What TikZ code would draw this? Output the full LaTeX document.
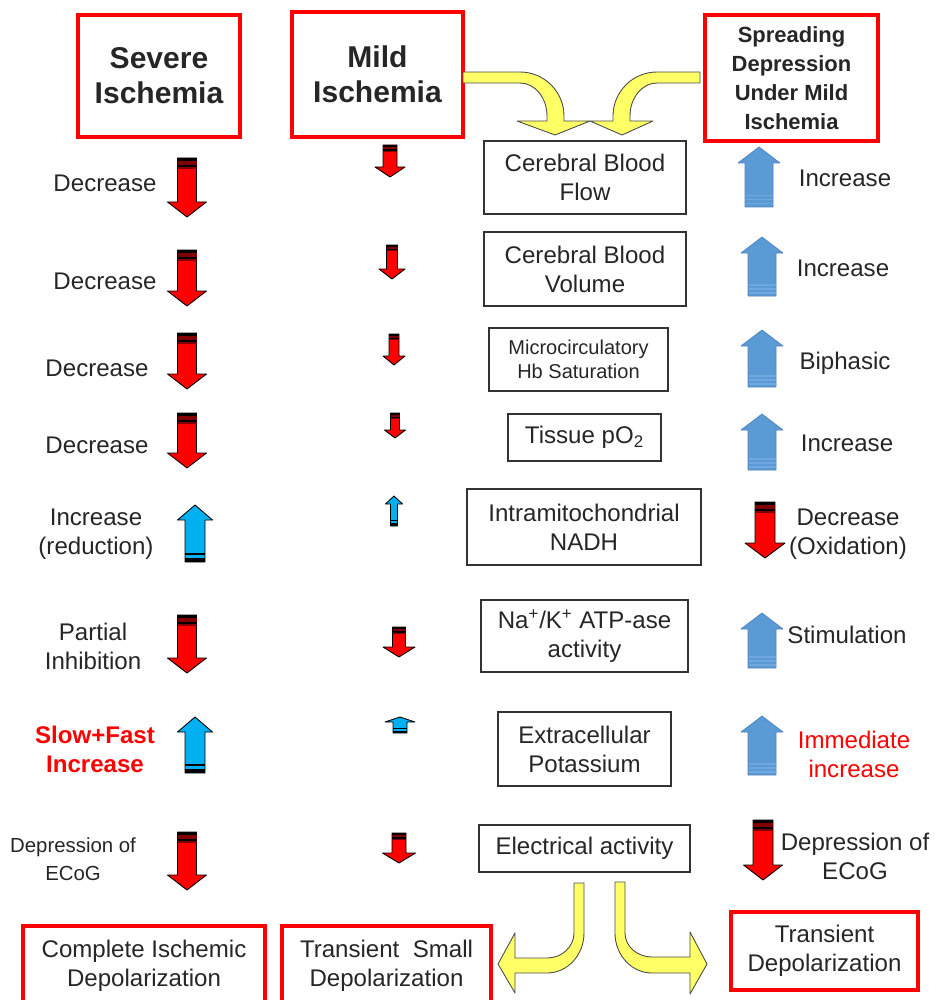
\documentclass[tikz,border=0pt]{standalone}
\usepackage{fontspec}
\setmainfont{Liberation Sans}
\usepackage{tikz}

\begin{document}
\begin{tikzpicture}[x=0.02cm,y=0.02cm,
  redbox/.style={draw=hdRed, line width=0.08cm, inner sep=0pt, align=center, text=black!85},
  blackbox/.style={draw=black!80, line width=0.75pt, inner sep=0pt, align=center, text=black!85, font=\fontsize{13.7}{16.5}\selectfont},
  lbl/.style={inner sep=0pt, align=center, text=black!85, font=\fontsize{13.7}{16.5}\selectfont},
  hdr/.style={font=\bfseries\fontsize{17.1}{19.9}\selectfont},
  yarrow/.style={fill=yellowFill, draw=black!70, line width=0.5pt, line join=round}]
\definecolor{hdRed}{RGB}{255,0,0}
\definecolor{arrowRed}{RGB}{255,0,0}
\definecolor{stripeRed}{RGB}{128,0,0}
\definecolor{ischBlue}{RGB}{0,176,240}
\definecolor{sdBlue}{RGB}{91,155,213}
\definecolor{sdEdge}{RGB}{80,130,190}
\definecolor{sdStripe}{RGB}{112,168,222}
\definecolor{yellowFill}{RGB}{255,255,102}
\useasboundingbox (0,0) rectangle (935,-1000);
\clip (0,0) rectangle (935,-1000);
% column headers
\node[redbox, hdr, minimum width=3.24cm, minimum height=2.44cm] (severe) at (159,-76) {Severe\\Ischemia};
\node[redbox, hdr, minimum width=3.42cm, minimum height=2.5cm] (mild) at (377.5,-74.5) {Mild\\Ischemia};
\node[redbox, font=\bfseries\fontsize{12.5}{16.5}\selectfont, minimum width=3.46cm, minimum height=2.52cm] (spread) at (791.5,-78) {Spreading\\Depression\\Under Mild\\Ischemia};
% parameters
\node[blackbox, minimum width=4.04cm, minimum height=1.46cm] (cbf) at (585,-177.5) {Cerebral Blood\\Flow};
\node[blackbox, minimum width=4.04cm, minimum height=1.48cm] (cbv) at (585,-269) {Cerebral Blood\\Volume};
\node[blackbox, font=\fontsize{11.4}{13.7}\selectfont, minimum width=3.58cm, minimum height=1.26cm] (hbsat) at (578.5,-359.5) {Microcirculatory\\Hb Saturation};
\node[blackbox, minimum width=3.06cm, minimum height=0.94cm] (tpo) at (584.5,-437.5) {Tissue pO\textsubscript{2}};
\node[blackbox, minimum width=4.68cm, minimum height=1.52cm] (nadh) at (584,-527) {Intramitochondrial\\NADH};
\node[blackbox, minimum width=4.14cm, minimum height=1.44cm] (atpase) at (584.5,-636) {Na\textsuperscript{+}/K\textsuperscript{+} ATP-ase\\activity};
\node[blackbox, minimum width=3.46cm, minimum height=1.48cm] (kext) at (584.5,-749) {Extracellular\\Potassium};
\node[blackbox, minimum width=4.22cm, minimum height=0.94cm] (ecog) at (584.5,-848.5) {Electrical activity};
% outcomes
\node[redbox, font=\fontsize{13.7}{16.5}\selectfont, minimum width=4.84cm, minimum height=1.6cm] (cid) at (144,-966) {Complete Ischemic\\Depolarization};
\node[redbox, font=\fontsize{13.7}{16.5}\selectfont, minimum width=4.18cm, minimum height=1.6cm] (tsd) at (386.5,-966) {Transient\ \ Small\\Depolarization};
\node[redbox, font=\fontsize{13.7}{16.5}\selectfont, minimum width=3.74cm, minimum height=1.56cm] (td) at (824.5,-951) {Transient\\Depolarization};
% severe ischemia labels
\node[lbl] (s1) at (105,-183) {Decrease};
\node[lbl] (s2) at (105,-281) {Decrease};
\node[lbl] (s3) at (97,-368) {Decrease};
\node[lbl] (s4) at (97,-445) {Decrease};
\node[lbl] (s5) at (96,-534.5) {Increase\\(reduction)};
\node[lbl] (s6) at (93,-646.5) {Partial\\Inhibition};
\node[lbl, text=hdRed, font=\bfseries\fontsize{13.7}{16.5}\selectfont] (s7) at (95,-749.5) {Slow+Fast\\Increase};
\node[lbl, font=\fontsize{11.6}{16}\selectfont] (s8) at (73,-859) {Depression of\\ECoG};
% spreading depression labels
\node[lbl] (d1) at (845,-178) {Increase};
\node[lbl] (d2) at (843,-268) {Increase};
\node[lbl] (d3) at (845,-363) {Biphasic};
\node[lbl] (d4) at (847,-443) {Increase};
\node[lbl] (d5) at (848,-534.5) {Decrease\\(Oxidation)};
\node[lbl] (d6) at (847,-635) {Stimulation};
\node[lbl, text=hdRed] (d7) at (854,-754.5) {Immediate\\increase};
\node[lbl] (d8) at (855,-856) {Depression of\\ECoG};
% red arrows (down)
\foreach \cx/\ty/\by/\bw/\hw/\hh/\su in {187/158/217/9.5/19.5/15/3.3, 187/250/306/9.5/19.5/15/3.3, 187/333/389/9.5/19.5/15/3.3, 187/413/468/9.5/19.5/15/3.3, 187/615/673/9.5/19.5/15/3.3, 187/832/890/9.5/19.5/15/3.3,
    390/145/177/7/15/10/2.2, 392/245/279/5.5/13/10/2, 394/334/365/5/11/9/2, 395/413/438/4.5/10.5/8/1.8, 399/627/657/6.5/16/10/2.2, 399/833/863/7/16.5/10/2.2,
    765/502/558/10/20/15/3.3, 763/820/880/10/19.5/15/3.3}
{
  \filldraw[fill=arrowRed, draw=black, line width=0.5pt, line join=round] ({\cx-\bw},-\ty) -- ({\cx+\bw},-\ty) -- ({\cx+\bw},{\hh-\by}) -- ({\cx+\hw},{\hh-\by}) -- (\cx,-\by) -- ({\cx-\hw},{\hh-\by}) -- ({\cx-\bw},{\hh-\by}) -- cycle;
  \fill[black] ({\cx-\bw},-\ty) rectangle ({\cx+\bw},{-\ty-\su});
  \fill[stripeRed] ({\cx-\bw},{-\ty-\su}) rectangle ({\cx+\bw},{-\ty-2*\su});
  \fill[black] ({\cx-\bw},{-\ty-2*\su}) rectangle ({\cx+\bw},{-\ty-2.7*\su});
  \fill[stripeRed] ({\cx-\bw},{-\ty-2.7*\su}) rectangle ({\cx+\bw},{-\ty-3.2*\su});
}
% cyan arrows (up)
\foreach \cx/\ty/\by/\bw/\hw/\hh/\su in {195/505/562/10/17.5/15/3, 195/717/773/10/17.5/15/3, 394/496/526/3.5/8.5/8/2.2, 400/717/733/7/15/5/1.6}
{
  \filldraw[fill=ischBlue, draw=black, line width=0.5pt, line join=round] (\cx,-\ty) -- ({\cx+\hw},{-\ty-\hh}) -- ({\cx+\bw},{-\ty-\hh}) -- ({\cx+\bw},-\by) -- ({\cx-\bw},-\by) -- ({\cx-\bw},{-\ty-\hh}) -- ({\cx-\hw},{-\ty-\hh}) -- cycle;
  \fill[black] ({\cx-\bw},-\by) rectangle ({\cx+\bw},{-\by+1.2*\su});
  \fill[black] ({\cx-\bw},{-\by+2.2*\su}) rectangle ({\cx+\bw},{-\by+2.9*\su});
}
% steel blue arrows (up)
\foreach \cx/\ty/\by in {759/147/207, 762/237/296, 762/330/387, 762/414/470, 762/613/668, 762/716/775}
{
  \filldraw[fill=sdBlue, draw=sdEdge, line width=0.4pt, line join=round] (\cx,-\ty) -- ({\cx+21},{-\ty-16}) -- ({\cx+14},{-\ty-16}) -- ({\cx+14},-\by) -- ({\cx-14},-\by) -- ({\cx-14},{-\ty-16}) -- ({\cx-21},{-\ty-16}) -- cycle;
  \foreach \o in {2.5,6.5,10.5}
    \fill[sdStripe] ({\cx-13.5},{-\by+\o}) rectangle ({\cx+13.5},{-\by+\o+1.5});
}
% yellow bent arrows
\draw[yarrow] (463,-72) -- (520,-72) arc[start angle=90, end angle=0, radius=44] -- (564,-121) -- (590,-121) -- (555,-135) -- (517,-121) -- (547,-121) -- (547,-116) arc[start angle=0, end angle=90, x radius=27, y radius=33] -- (463,-83) -- cycle;
\draw[yarrow] (700,-72) -- (657,-72) arc[start angle=90, end angle=180, radius=44] -- (613,-121) -- (590,-121) -- (622,-135) -- (653,-121) -- (630,-121) -- (630,-116) arc[start angle=180, end angle=90, x radius=27, y radius=33] -- (700,-83) -- cycle;
\draw[yarrow] (574,-883) -- (584,-883) -- (584,-933) arc[start angle=0, end angle=-90, x radius=37, y radius=40] -- (515,-973) -- (515,-993) -- (498,-964) -- (515,-933) -- (515,-958) -- (547,-958) arc[start angle=-90, end angle=0, x radius=27, y radius=25] -- cycle;
\draw[yarrow] (615,-882) -- (625,-882) -- (625,-933) arc[start angle=180, end angle=270, x radius=27, y radius=24] -- (690,-957) -- (690,-932) -- (707,-964) -- (690,-994) -- (690,-973) -- (652,-973) arc[start angle=270, end angle=180, x radius=37, y radius=40] -- cycle;
\end{tikzpicture}
\end{document}
